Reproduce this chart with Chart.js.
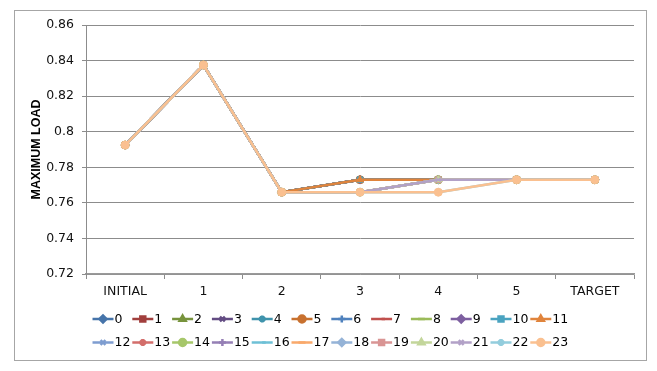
<!DOCTYPE html>
<html>
<head>
<meta charset="utf-8">
<script src="https://cdn.jsdelivr.net/npm/chart.js@4/dist/chart.umd.min.js"></script>
<style>
  html, body { margin: 0; padding: 0; background: #fff; }
  #wrap { width: 657px; height: 371px; position: relative; }
</style>
</head>
<body>
<div id="wrap"><canvas id="loadChart" width="657" height="371"></canvas></div>
<script>
// Categories along the x axis
const categories = ['INITIAL', '1', '2', '3', '4', '5', 'TARGET'];

// Series names shown in the legend
const seriesNames = ['0', '1', '2', '3', '4', '5', '6', '7', '8', '9', '10', '11',
                     '12', '13', '14', '15', '16', '17', '18', '19', '20', '21', '22', '23'];

// The three distinct paths visible in the picture
const pathEarly = [0.7925, 0.8375, 0.766, 0.773, 0.773, 0.773, 0.773];
const pathMiddle = [0.7925, 0.8375, 0.766, 0.766, 0.773, 0.773, 0.773];
const pathLate = [0.7925, 0.8375, 0.766, 0.766, 0.766, 0.773, 0.773];

// Which path each series follows
const seriesPath = [pathEarly, pathEarly, pathEarly, pathEarly, pathEarly, pathEarly,
                    pathEarly, pathEarly, pathEarly, pathEarly, pathEarly, pathEarly,
                    pathMiddle, pathMiddle, pathMiddle, pathMiddle, pathMiddle, pathMiddle,
                    pathMiddle, pathMiddle, pathMiddle, pathMiddle, pathLate, pathLate];

// Y axis ticks
const yTicks = [0.72, 0.74, 0.76, 0.78, 0.8, 0.82, 0.84, 0.86];

// Excel-like series colours and markers
const seriesColors = [
    '#4674AA', '#A13F3D', '#77933C', '#634C83', '#3F93AC', '#C8712F',
    '#4F81BD', '#C0504D', '#9BBB59', '#7D5FA0', '#4AA3C0', '#E0843C',
    '#7E9DD0', '#D36E6B', '#A6C76A', '#957FB5', '#6EC0D6', '#F9A96B',
    '#95B3D7', '#D99594', '#C3D69B', '#B2A1C7', '#93CDDD', '#FAC090'
];
const markerCycle = ['rectRot', 'rect', 'triangle', 'crossRot', 'star', 'circle', 'cross', 'dash', 'line'];

const fontFamily = '"DejaVu Sans", sans-serif';

const datasets = seriesNames.map((name, i) => ({
    label: name,
    data: seriesPath[i],
    borderColor: seriesColors[i],
    backgroundColor: seriesColors[i],
    borderWidth: 2.5,
    pointStyle: markerCycle[i % markerCycle.length],
    pointRadius: 4,
    pointBorderWidth: 1,
    pointHoverRadius: 4,
    tension: 0,
    order: seriesNames.length - i
}));

// Outer frame like the spreadsheet chart box
const framePlugin = {
    id: 'frame',
    beforeDraw(chart) {
        const ctx = chart.ctx;
        ctx.save();
        ctx.fillStyle = '#ffffff';
        ctx.fillRect(0, 0, chart.width, chart.height);
        ctx.strokeStyle = '#a6a6a6';
        ctx.lineWidth = 1;
        ctx.strokeRect(14.5, 10.5, 632, 350);
        ctx.restore();
    }
};

// Two-row legend with line + marker swatches
const legendPlugin = {
    id: 'excelLegend',
    afterDraw(chart) {
        const ctx = chart.ctx;
        const perRow = 12;
        const startX = 92.5;
        const stepX = 39.8;
        const rowY = [319, 342.5];
        ctx.save();
        chart.data.datasets.forEach((ds, i) => {
            const col = i % perRow;
            const row = Math.floor(i / perRow);
            const x = startX + col * stepX;
            const y = rowY[row];
            ctx.strokeStyle = ds.borderColor;
            ctx.lineWidth = 2.5;
            ctx.beginPath();
            ctx.moveTo(x, y);
            ctx.lineTo(x + 21, y);
            ctx.stroke();
            ctx.fillStyle = ds.backgroundColor;
            Chart.helpers.drawPoint(ctx, {
                pointStyle: ds.pointStyle,
                radius: 3.5,
                rotation: 0,
                borderWidth: 1
            }, x + 10.5, y);
            ctx.fillStyle = '#000';
            ctx.font = '12.5px ' + fontFamily;
            ctx.textBaseline = 'middle';
            ctx.textAlign = 'left';
            ctx.fillText(ds.label, x + 22, y + 0.5);
        });
        ctx.restore();
    }
};

new Chart(document.getElementById('loadChart'), {
    type: 'line',
    data: { labels: categories, datasets: datasets },
    plugins: [framePlugin, legendPlugin],
    options: {
        responsive: false,
        animation: false,
        events: [],
        layout: { padding: { top: 25, right: 23, bottom: 0, left: 0 } },
        plugins: {
            legend: { display: false },
            tooltip: { enabled: false }
        },
        scales: {
            x: {
                offset: true,
                grid: {
                    offset: true,
                    drawOnChartArea: false,
                    drawTicks: true,
                    tickLength: 5,
                    color: '#8c8c8c'
                },
                border: { color: '#9a9a9a', width: 1.5 },
                ticks: {
                    color: '#111',
                    font: { family: fontFamily, size: 12.5 },
                    padding: 5,
                    maxRotation: 0,
                    autoSkip: false
                },
                afterFit(scale) { scale.height = 97; }
            },
            y: {
                min: 0.72,
                max: 0.86,
                afterBuildTicks(scale) {
                    scale.ticks = yTicks.map(v => ({ value: v }));
                },
                grid: {
                    color: '#8c8c8c',
                    tickLength: 4,
                    drawTicks: true
                },
                border: { color: '#8c8c8c' },
                ticks: {
                    color: '#111',
                    font: { family: fontFamily, size: 12.5 },
                    padding: 8,
                    callback: v => String(parseFloat(v.toFixed(2)))
                },
                title: {
                    display: true,
                    text: 'MAXIMUM LOAD',
                    color: '#000',
                    font: { family: '"Liberation Sans", sans-serif', size: 12.5, weight: 'bold' },
                    padding: { top: 29.5, bottom: 0 }
                },
                afterFit(scale) { scale.width = 86; }
            }
        }
    }
});
</script>
</body>
</html>
